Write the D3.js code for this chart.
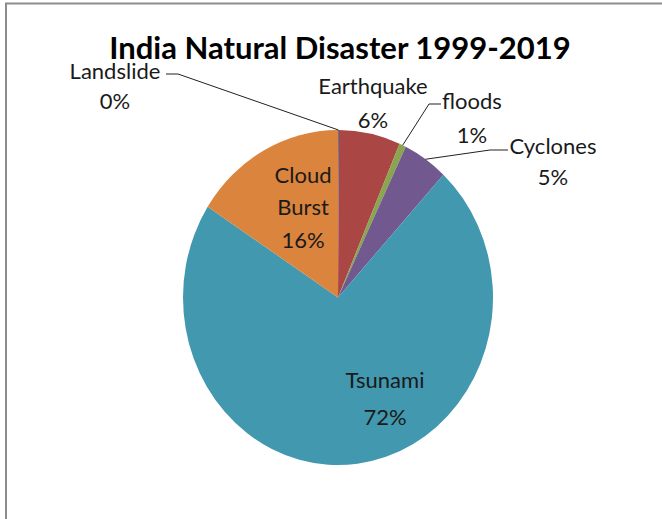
<!DOCTYPE html>
<html>
<head>
<meta charset="utf-8">
<script src="https://cdn.jsdelivr.net/npm/d3@7"></script>
<style>
  html, body { margin: 0; padding: 0; background: #fff; }
  svg { display: block; }
  text { font-family: Lato, "Open Sans", sans-serif; fill: #1a1a1a; }
</style>
</head>
<body>
<svg id="chart" width="662" height="519"></svg>
<script>
const title = "India Natural Disaster 1999-2019";
const categories = ["Landslide", "Earthquake", "floods", "Cyclones", "Tsunami", "Cloud Burst"];
const values = [0.1, 6.4, 0.7, 4.7, 72.2, 15.9];
const colors = ["#4F6FA0", "#AA4643", "#89A54E", "#71588F", "#4198AF", "#DB843D"];

const W = 662, H = 519;
const cx = 338, cy = 297.5, rx = 155, ry = 167.5;

const svg = d3.select("#chart");

// chart border (top and left visible)
svg.append("line").attr("x1", 5).attr("y1", 3.5).attr("x2", W).attr("y2", 3.5)
  .attr("stroke", "#8c8c8c").attr("stroke-width", 2);
svg.append("line").attr("x1", 6).attr("y1", 3).attr("x2", 6).attr("y2", H)
  .attr("stroke", "#8c8c8c").attr("stroke-width", 2);

svg.append("text").attr("x", 340).attr("y", 59).attr("text-anchor", "middle")
  .style("font-weight", "bold").style("font-size", "31px").style("fill", "#000")
  .text(title);

const data = categories.map((c, i) => ({ name: c, value: values[i], color: colors[i] }));
const pie = d3.pie().sort(null).value(d => d.value);
const arcs = pie(data);
const arc = d3.arc().innerRadius(0).outerRadius(rx);

const g = svg.append("g").attr("transform", `translate(${cx},${cy}) scale(1,${ry / rx})`);
g.selectAll("path").data(arcs).join("path")
  .attr("d", arc).attr("fill", d => d.data.color);

// point on ellipse at mid-angle of a slice
function edgePoint(a) {
  const ang = (a.startAngle + a.endAngle) / 2;
  return [cx + Math.sin(ang) * rx, cy - Math.cos(ang) * ry];
}
const pct = v => Math.round(v) + "%";

const labelSpec = {
  "Landslide":   { x: 115, ys: [79, 109], leader: [[166, 74], [178, 74]] },
  "Earthquake":  { x: 373, ys: [94, 128] },
  "floods":      { x: 472, ys: [109, 143], leader: [[441, 104], [429, 104]] },
  "Cyclones":    { x: 553, ys: [154, 185], leader: [[508, 150], [490, 150]] },
  "Tsunami":     { x: 385, ys: [388, 425] },
  "Cloud Burst": { x: 303, ys: [183, 215, 248] }
};

arcs.forEach(a => {
  const s = labelSpec[a.data.name];
  const lines = a.data.name === "Cloud Burst" ? ["Cloud", "Burst", pct(a.data.value)] : [a.data.name, pct(a.data.value)];
  const t = svg.append("text").attr("text-anchor", "middle").style("font-size", "22px");
  lines.forEach((ln, i) => t.append("tspan").attr("x", s.x).attr("y", s.ys[i]).text(ln));
  if (s.leader) {
    const p = edgePoint(a);
    const pts = s.leader.concat([p]);
    svg.append("polyline").attr("points", pts.map(q => q.join(",")).join(" "))
      .attr("fill", "none").attr("stroke", "#222").attr("stroke-width", 1);
  }
});
</script>
</body>
</html>
